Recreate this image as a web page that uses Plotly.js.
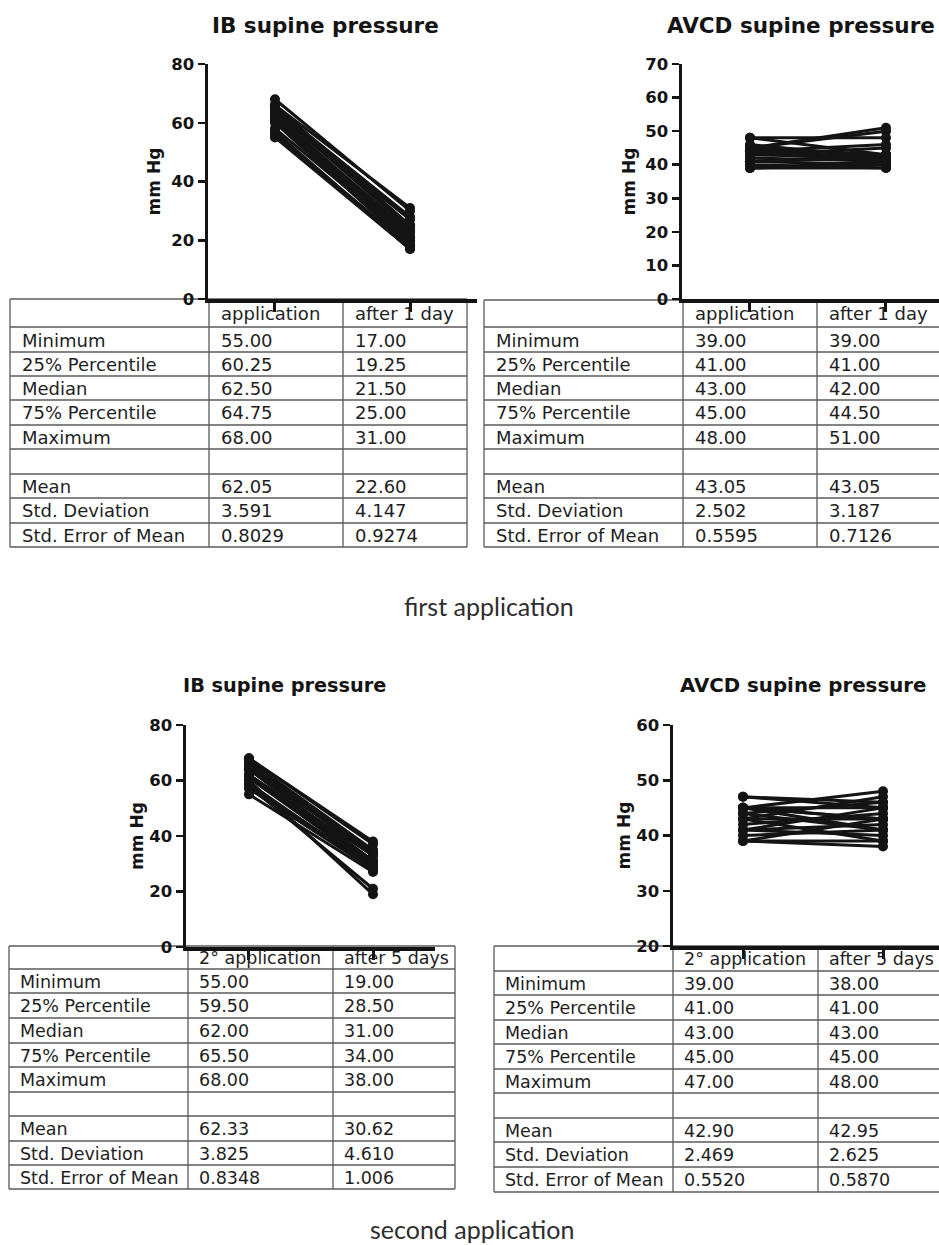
<!DOCTYPE html>
<html>
<head>
<meta charset="utf-8">
<script src="https://cdn.plot.ly/plotly-3.0.1.min.js"></script>
<style>
html,body{margin:0;padding:0;background:#fff;overflow:hidden;}
#chart{width:939px;height:1245px;}
</style>
</head>
<body>
<div id="chart"></div>
<script>
// ---------------- DATA ----------------
const cats1 = ['application', 'after 1 day'];
const cats2 = ['2° application', 'after 5 days'];

// first application, IB supine pressure (n = 20)
const ib1App   = [55,56,57,58,60,61,61,61,62,62,63,63,64,64,64,65,65,66,66,68];
const ib1After = [17,18,17,20,18,19,21,20,21,23,21,22,25,24,27,25,28,25,31,30];
// first application, AVCD supine pressure (n = 20)
const avcd1App   = [39,39,39,40,41,41,41,42,43,43,43,44,44,45,45,45,45,46,48,48];
const avcd1After = [39,40,41,39,42,40,43,41,42,43,45,42,46,43,50,41,51,42,48,43];
// second application, IB supine pressure (n = 21)
const ib2App   = [55,57,58,58,59,60,61,61,61,62,62,62,64,64,64,65,66,67,67,68,68];
const ib2After = [27,28,21,29,28,19,30,29,31,30,31,33,31,34,31,33,34,35,34,37,38];
// second application, AVCD supine pressure (n = 20)
const avcd2App   = [39,39,39,40,41,41,41,42,43,43,43,44,44,45,45,45,45,45,47,47];
const avcd2After = [38,39,43,41,45,40,42,44,39,47,43,41,46,43,48,41,45,43,46,45];

// statistics tables
const rowLabels = ['Minimum','25% Percentile','Median','75% Percentile','Maximum','','Mean','Std. Deviation','Std. Error of Mean'];
const ib1AppStats     = ['55.00','60.25','62.50','64.75','68.00','','62.05','3.591','0.8029'];
const ib1AfterStats   = ['17.00','19.25','21.50','25.00','31.00','','22.60','4.147','0.9274'];
const avcd1AppStats   = ['39.00','41.00','43.00','45.00','48.00','','43.05','2.502','0.5595'];
const avcd1AfterStats = ['39.00','41.00','42.00','44.50','51.00','','43.05','3.187','0.7126'];
const ib2AppStats     = ['55.00','59.50','62.00','65.50','68.00','','62.33','3.825','0.8348'];
const ib2AfterStats   = ['19.00','28.50','31.00','34.00','38.00','','30.62','4.610','1.006'];
const avcd2AppStats   = ['39.00','41.00','43.00','45.00','47.00','','42.90','2.469','0.5520'];
const avcd2AfterStats = ['38.00','41.00','43.00','45.00','48.00','','42.95','2.625','0.5870'];

const titles = ['IB supine pressure','AVCD supine pressure','IB supine pressure','AVCD supine pressure'];
const captions = ['first application','second application'];
const yTitle = 'mm Hg';

// ---------------- HELPERS ----------------
const W = 939, H = 1245;
const px = v => v / W;
const py = v => 1 - v / H;
const INK = '#141414';

function pairTrace(app, after, cats, xa, ya) {
  const x = [], y = [];
  app.forEach((v, i) => { x.push(cats[0], cats[1], null); y.push(v, after[i], null); });
  return {
    type: 'scatter', mode: 'lines+markers', x: x, y: y, xaxis: xa, yaxis: ya,
    line: {color: INK, width: 3}, marker: {color: INK, size: 10},
    hoverinfo: 'skip', showlegend: false, cliponaxis: false
  };
}

function xAxis(domain, range, cats, anchor) {
  return {
    domain: domain, range: range, type: 'category', categoryorder: 'array', categoryarray: cats,
    anchor: anchor, showline: true, linewidth: 3.5, linecolor: INK,
    ticks: 'outside', ticklen: 9, tickwidth: 3, tickcolor: INK,
    showticklabels: false, showgrid: false, zeroline: false, fixedrange: true
  };
}
function yAxis(domain, range, dtick, anchor, standoff) {
  return {
    domain: domain, range: range, dtick: dtick, anchor: anchor,
    showline: true, linewidth: 3.5, linecolor: INK,
    ticks: 'outside', ticklen: 7, tickwidth: 2.5, tickcolor: INK,
    tickfont: {family: 'DejaVu Sans', size: 16.5, color: INK, weight: 'bold'},
    showgrid: false, zeroline: false, fixedrange: true,
    title: {text: yTitle, standoff: standoff, font: {family: 'DejaVu Sans', size: 17, color: INK, weight: 'bold'}}
  };
}

const shapes = [];
const annotations = [];

function table(xs, ys, headers, colA, colB, fsize, pad, rightEdge) {
  const x0 = xs[0], x3 = rightEdge;
  ys.forEach(y => shapes.push({type: 'line', xref: 'paper', yref: 'paper',
    x0: px(x0), x1: px(x3), y0: py(y), y1: py(y), line: {color: '#5a5a5a', width: 1.3}, layer: 'below'}));
  xs.forEach(x => { if (x !== null) shapes.push({type: 'line', xref: 'paper', yref: 'paper',
    x0: px(x), x1: px(x), y0: py(ys[0]), y1: py(ys[ys.length - 1]), line: {color: '#5a5a5a', width: 1.3}, layer: 'below'}); });
  const font = {family: 'DejaVu Sans', size: fsize, color: '#1e1e1e'};
  const put = (text, col, row) => {
    if (!text) return;
    const yc = (ys[row] + ys[row + 1]) / 2;
    annotations.push({xref: 'paper', yref: 'paper', x: px(xs[col] + pad), y: py(yc + 0.5),
      xanchor: 'left', yanchor: 'middle', text: text, showarrow: false, font: font});
  };
  put(headers[0], 1, 0);
  put(headers[1], 2, 0);
  rowLabels.forEach((lab, i) => {
    put(lab, 0, i + 1);
    put(colA[i], 1, i + 1);
    put(colB[i], 2, i + 1);
  });
}

// tables
table([10, 209, 343, 467], [299,327,352,376,400,425,449,474,498,523,547], cats1, ib1AppStats, ib1AfterStats, 18, 10, 467);
table([484, 683, 817, null], [300,327,352,376,400,425,449,474,498,523,547], cats1, avcd1AppStats, avcd1AfterStats, 18, 10, 939);
table([9, 188, 333, 455], [946,969,993,1018,1043,1067,1092,1116,1141,1165,1189], cats2, ib2AppStats, ib2AfterStats, 17.5, 9, 455);
table([494, 673, 818, null], [946,971,995,1020,1044,1069,1093,1118,1142,1167,1192], cats2, avcd2AppStats, avcd2AfterStats, 17.5, 9, 939);

// panel titles
const titlePos = [[325, 25, 21.5], [801, 25, 21.5], [284, 686, 19.3], [803, 686, 19.8]];
titles.forEach((t, i) => annotations.push({xref: 'paper', yref: 'paper', x: px(titlePos[i][0]), y: py(titlePos[i][1]),
  xanchor: 'center', yanchor: 'middle', text: t, showarrow: false,
  font: {family: 'DejaVu Sans', size: titlePos[i][2], color: INK, weight: 'bold'}}));

// captions
const capPos = [[489, 606], [472, 1229]];
captions.forEach((t, i) => annotations.push({xref: 'paper', yref: 'paper', x: px(capPos[i][0]), y: py(capPos[i][1]),
  xanchor: 'center', yanchor: 'middle', text: t, showarrow: false,
  font: {family: 'Lato', size: 25, color: '#2e2e2e'}}));

const data = [
  pairTrace(ib1App, ib1After, cats1, 'x', 'y'),
  pairTrace(avcd1App, avcd1After, cats1, 'x2', 'y2'),
  pairTrace(ib2App, ib2After, cats2, 'x3', 'y3'),
  pairTrace(avcd2App, avcd2After, cats2, 'x4', 'y4')
];

const layout = {
  width: W, height: H, margin: {l: 0, r: 0, t: 0, b: 0},
  paper_bgcolor: '#fff', plot_bgcolor: 'rgba(0,0,0,0)', showlegend: false,
  xaxis:  xAxis([px(208), px(477)], [-0.496, 1.496], cats1, 'y'),
  yaxis:  yAxis([py(299), py(64)], [0, 80], 20, 'x', 7),
  xaxis2: xAxis([px(682), 1], [-0.5, 1.39], cats1, 'y2'),
  yaxis2: yAxis([py(299), py(64)], [0, 70], 10, 'x2', 6),
  xaxis3: xAxis([px(186), px(435)], [-0.508, 1.5], cats2, 'y3'),
  yaxis3: yAxis([py(947), py(725)], [0, 80], 20, 'x3', 2),
  xaxis4: xAxis([px(673), 1], [-0.5, 1.4], cats2, 'y4'),
  yaxis4: yAxis([py(946), py(725)], [20, 60], 10, 'x4', 2),
  shapes: shapes,
  annotations: annotations
};

Plotly.newPlot('chart', data, layout, {displayModeBar: false, staticPlot: true});
</script>
</body>
</html>
